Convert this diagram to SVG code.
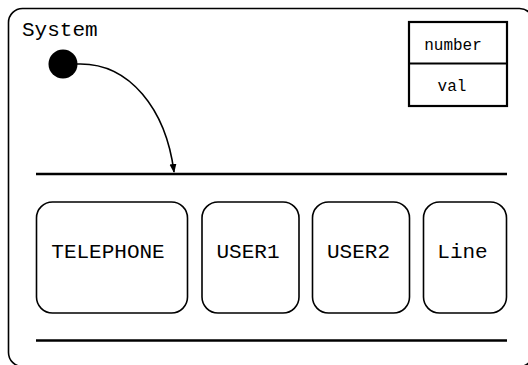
<svg xmlns="http://www.w3.org/2000/svg" width="528" height="365" viewBox="0 0 528 365">
<style>
text{font-family:"Liberation Mono","Courier New",monospace;fill:#000}
.st{fill:#fff;stroke:#000;stroke-width:1.6}
.big{font-size:21px}
.sm{font-size:16px}
</style>
<defs>
<marker id="ah" markerWidth="10" markerHeight="10" refX="8" refY="5" orient="auto" markerUnits="userSpaceOnUse">
<path d="M0,1.5 L9,5 L0,8.5 Z" fill="#000"/>
</marker>
</defs>
<rect width="528" height="365" fill="#fff"/>
<g id="system">
<rect x="8.5" y="8.5" width="525" height="358" rx="14" fill="#fff" stroke="#000" stroke-width="1.6"/>
<text class="big" x="22" y="36">System</text>
</g>
<g id="attributes">
<rect x="409" y="22" width="98" height="84" fill="#fff" stroke="#000" stroke-width="2.2"/>
<line x1="409" y1="63.5" x2="507" y2="63.5" stroke="#000" stroke-width="2.2"/>
<text class="sm" x="453" y="50" text-anchor="middle">number</text>
<text class="sm" x="452" y="91" text-anchor="middle">val</text>
</g>
<g id="initial">
<circle cx="63" cy="64" r="14.5" fill="#000"/>
</g>
<g id="bars">
<line x1="36" y1="174" x2="507" y2="174" stroke="#000" stroke-width="2.4"/>
<line x1="36" y1="340.5" x2="507" y2="340.5" stroke="#000" stroke-width="2.4"/>
</g>
<g id="telephone">
<rect class="st" x="36.5" y="202" width="151" height="111" rx="16"/>
<text class="big" x="108" y="258" text-anchor="middle">TELEPHONE</text>
</g>
<g id="user1">
<rect class="st" x="202" y="202" width="97" height="111" rx="16"/>
<text class="big" x="248" y="258" text-anchor="middle">USER1</text>
</g>
<g id="user2">
<rect class="st" x="312.5" y="202" width="97" height="111" rx="16"/>
<text class="big" x="358.5" y="258" text-anchor="middle">USER2</text>
</g>
<g id="line">
<rect class="st" x="423.5" y="202" width="83" height="111" rx="16"/>
<text class="big" x="462.5" y="258" text-anchor="middle">Line</text>
</g>
<g id="connectors">
<path d="M77,64 C130,62 166,110 174,172" fill="none" stroke="#000" stroke-width="1.6" marker-end="url(#ah)"/>
</g>
</svg>
